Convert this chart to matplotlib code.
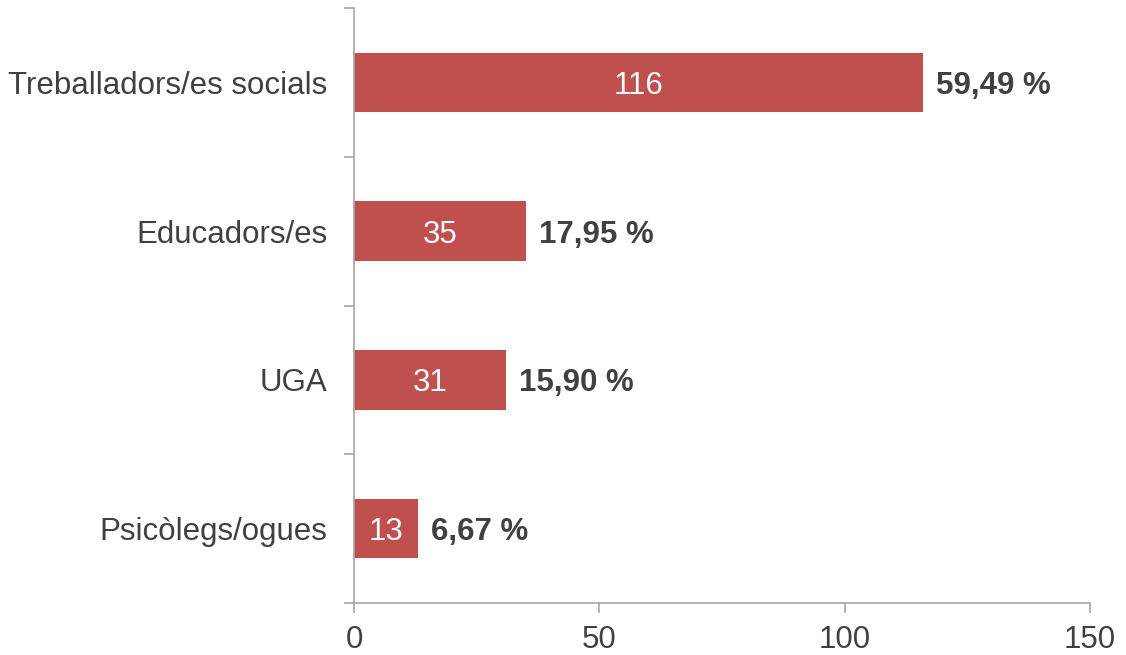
import matplotlib.pyplot as plt
import numpy as np

# Professional groups, top to bottom
categories = ["Treballadors/es socials", "Educadors/es", "UGA", "Psicòlegs/ogues"]
counts = [116, 35, 31, 13]
percents = ["59,49 %", "17,95 %", "15,90 %", "6,67 %"]
xticks = [0, 50, 100, 150]

bar_color = "#C0504D"
text_color = "#404040"
axis_color = "#A6A6A6"
fs = 22.5

plt.rcParams["font.family"] = ["Liberation Sans", "DejaVu Sans"]

fig = plt.figure(figsize=(11.26, 6.55), dpi=100)
ax = fig.add_axes([354 / 1126, 1 - 603 / 655, (1090 - 354) / 1126, (603 - 8) / 655])

ypos = np.arange(len(categories))[::-1]
bars = ax.barh(ypos, counts, height=0.4, color=bar_color)

# counts inside bars, shares to the right
for b, c, p in zip(bars, counts, percents):
    y = b.get_y() + b.get_height() / 2
    ax.text(b.get_width() / 2, y, str(c), ha="center", va="center_baseline",
            color="white", fontsize=fs)
    ax.annotate(p, (b.get_width(), y), xytext=(9.5, 0), textcoords="offset points",
                ha="left", va="center_baseline", fontsize=fs, fontweight="bold",
                color=text_color)

ax.set_xlim(0, 150)
ax.set_ylim(-0.5, len(categories) - 0.5)
ax.set_xticks(xticks)
ax.set_xticklabels([str(t) for t in xticks])
ax.set_yticks(ypos)
ax.set_yticklabels(categories, va="center_baseline")
ax.set_yticks(np.arange(len(categories) + 1) - 0.5, minor=True)

ax.tick_params(axis="y", which="major", length=0, pad=19, labelsize=fs,
               labelcolor=text_color)
ax.tick_params(axis="y", which="minor", length=7, color=axis_color, width=1.2)
ax.tick_params(axis="x", length=7, pad=9, color=axis_color, width=1.2,
               labelsize=fs, labelcolor=text_color)

for side in ["top", "right"]:
    ax.spines[side].set_visible(False)
for side in ["left", "bottom"]:
    ax.spines[side].set_color(axis_color)
    ax.spines[side].set_linewidth(1.2)

fig.savefig("out.png", dpi=100)
